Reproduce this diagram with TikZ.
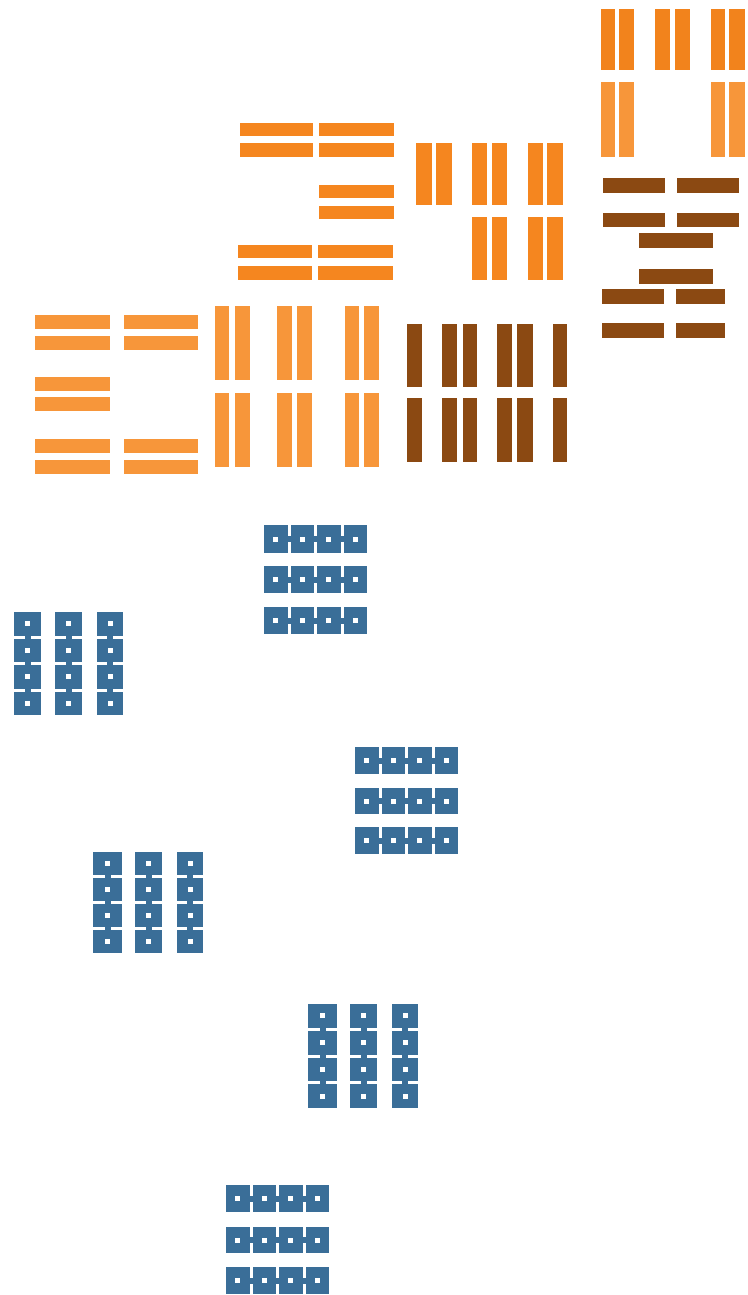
\documentclass[tikz,border=0pt]{standalone}
\definecolor{orA}{HTML}{F2831C}
\definecolor{orB}{HTML}{F5861F}
\definecolor{orC}{HTML}{F7963A}
\definecolor{brn}{HTML}{8B4912}
\definecolor{blu}{HTML}{3A6E98}
\tikzset{
  barA/.style={fill=orA},
  barB/.style={fill=orB},
  barC/.style={fill=orC},
  barD/.style={fill=brn},
  chain/.style={fill=blu},
  hole/.style={fill=white}
}
\newcommand{\hchainbox}[4]{%
  \pgfmathsetmacro\cw{((#3)-(#1)-9)/4}%
  \pgfmathsetmacro\ym{((#2)+(#4))/2}%
  \fill[chain] (#1,\ym-3) rectangle (#3,\ym+3);
  \foreach \i in {0,...,3}{%
    \pgfmathsetmacro\xa{#1+\i*(\cw+3)}%
    \fill[chain] (\xa,#2) rectangle ++(\cw,#4-#2);
    \fill[hole] (\xa+\cw/2-2.5,\ym-2.5) rectangle ++(5,5);
  }%
}
\newcommand{\vchainbox}[4]{%
  \pgfmathsetmacro\ch{((#4)-(#2)-9)/4}%
  \pgfmathsetmacro\xm{((#1)+(#3))/2}%
  \fill[chain] (\xm-3,#2) rectangle (\xm+3,#4);
  \foreach \i in {0,...,3}{%
    \pgfmathsetmacro\ya{#2+\i*(\ch+3)}%
    \fill[chain] (#1,\ya) rectangle ++(#3-#1,\ch);
    \fill[hole] (\xm-2.5,\ya+\ch/2-2.5) rectangle ++(5,5);
  }%
}
\begin{document}
\begin{tikzpicture}[x=1pt,y=-1pt]
\useasboundingbox[fill=white] (0,0) rectangle (747,1295);
% top-right group
\foreach \a/\b in {601/615,619/634,655/670,675/690,711/725,729/745}
  \fill[barA] (\a,9) rectangle (\b,70);
\foreach \a/\b in {601/615,619/634,711/725,729/745}
  \fill[barC] (\a,82) rectangle (\b,157);
% middle orange group, horizontal bars
\foreach \a/\b/\c/\d in {240/123/313/136,319/123/394/136,240/143/313/157,319/143/394/157,
  319/185/394/198,319/206/394/219,238/245/312/258,318/245/393/258,238/266/312/280,318/266/393/280}
  \fill[barB] (\a,\b) rectangle (\c,\d);
% middle orange group, vertical bars
\foreach \a/\b in {416/432,436/452,472/487,492/507,528/543,547/563}
  \fill[barB] (\a,143) rectangle (\b,205);
\foreach \a/\b in {472/487,492/507,528/543,547/563}
  \fill[barB] (\a,217) rectangle (\b,280);
% brown horizontal bars
\foreach \a/\b/\c/\d in {603/178/665/193,677/178/739/193,603/213/665/227,677/213/739/227,
  639/233/713/248,639/269/713/284,602/289/664/304,676/289/725/304,602/323/664/338,676/323/725/338}
  \fill[barD] (\a,\b) rectangle (\c,\d);
% brown vertical bars
\foreach \a/\b in {407/422,442/457,463/477,497/512,517/533,553/567}{
  \fill[barD] (\a,324) rectangle (\b,387);
  \fill[barD] (\a,398) rectangle (\b,462);
}
% left orange group, horizontal bars
\foreach \a/\b/\c/\d in {35/315/110/329,124/315/198/329,35/336/110/350,124/336/198/350,
  35/377/110/391,35/397/110/411,35/439/110/453,124/439/198/453,35/460/110/474,124/460/198/474}
  \fill[barC] (\a,\b) rectangle (\c,\d);
% left orange group, vertical bars
\foreach \a/\b in {215/229,235/250,277/292,297/312,345/359,364/379}{
  \fill[barC] (\a,306) rectangle (\b,380);
  \fill[barC] (\a,393) rectangle (\b,467);
}
% blue chains
\hchainbox{264}{525}{367}{553}
\hchainbox{264}{566}{367}{593}
\hchainbox{264}{607}{367}{634}
\vchainbox{14}{612}{41}{715}
\vchainbox{55}{612}{82}{715}
\vchainbox{97}{612}{123}{715}
\hchainbox{355}{747}{458}{774}
\hchainbox{355}{788}{458}{814}
\hchainbox{355}{827}{458}{854}
\vchainbox{93}{852}{122}{953}
\vchainbox{135}{852}{162}{953}
\vchainbox{177}{852}{203}{953}
\vchainbox{308}{1004}{337}{1108}
\vchainbox{350}{1004}{377}{1108}
\vchainbox{392}{1004}{418}{1108}
\hchainbox{226}{1185}{329}{1212}
\hchainbox{226}{1227}{329}{1253}
\hchainbox{226}{1267}{329}{1294}
\end{tikzpicture}
\end{document}
